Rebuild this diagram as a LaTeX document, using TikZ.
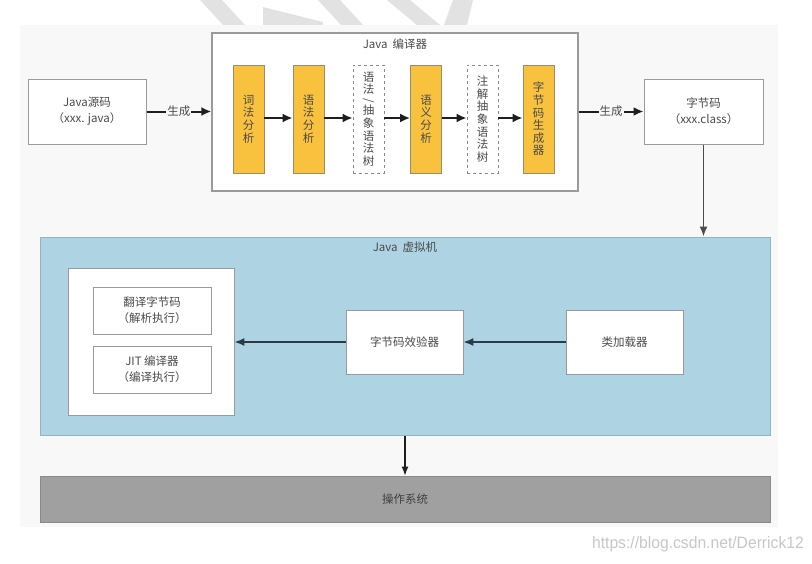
\documentclass[tikz,border=0pt]{standalone}
\usepackage{fontspec}
\newfontfamily\cjk{Noto Sans CJK SC}
\newfontfamily\wmfont{Liberation Sans}
\usetikzlibrary{arrows.meta}
\definecolor{bgc}{HTML}{F8F8F8}
\definecolor{wmc}{HTML}{E2E2E2}
\definecolor{txtc}{HTML}{4A4A4A}
\definecolor{boxc}{HTML}{9A9A9A}
\definecolor{orng}{HTML}{F9C23E}
\definecolor{obord}{HTML}{9C8C6A}
\definecolor{dashc}{HTML}{8A8A8A}
\definecolor{arrc}{HTML}{1E1E1E}
\definecolor{jvmc}{HTML}{AED4E3}
\definecolor{jvmb}{HTML}{8FB4C4}
\definecolor{osc}{HTML}{A0A0A0}
\definecolor{osb}{HTML}{8A8A8A}
\definecolor{varc}{HTML}{2B3A44}
\begin{document}
\begin{tikzpicture}[x=1pt,y=-1pt,
  txt/.style={font=\cjk\fontsize{11.5}{16}\selectfont, text=txtc, align=center},
  vtxt/.style={font=\cjk\fontsize{11.5}{12.6}\selectfont, text=txtc, align=center},
  box/.style={txt, draw=boxc, line width=1pt, fill=white, inner sep=0pt},
  obox/.style={vtxt, draw=obord, line width=0.8pt, fill=orng, inner sep=0pt, minimum width=31pt, minimum height=108pt},
  dbox/.style={vtxt, draw=dashc, line width=0.8pt, dashed, fill=white, inner sep=0pt, minimum width=31pt, minimum height=108pt},
  arr/.style={-{Latex[length=10pt,width=9pt]}, line width=2pt, draw=arrc},
  varr/.style={-{Latex[length=10pt,width=8pt]}, line width=1.6pt, draw=varc},
  lbl/.style={txt, fill=bgc, inner sep=1pt},
]
\useasboundingbox (0,0) rectangle (812,563);
\fill[white] (0,0) rectangle (812,563);
% watermark stripes
\fill[wmc] (200,0) -- (222,0) -- (245,25) -- (223,25) -- cycle;
\fill[wmc] (263,7) -- (323,22) -- (323,25) -- (263,25) -- cycle;
\fill[wmc] (318,0) -- (340,0) -- (363,25) -- (341,25) -- cycle;
\fill[wmc] (387,0) -- (410,0) -- (440,25) -- (417,25) -- cycle;
\fill[wmc] (453,0) -- (473,0) -- (467,25) -- (444,25) -- cycle;
% canvas
\fill[bgc] (20,25) rectangle (778,527);

% compiler
\node[box, fill=white, minimum width=366pt, minimum height=158pt, line width=1.3pt] (comp) at (395,112) {};
\node[txt] (ctitle) at (395,44) {Java\ \ 编译器};

\node[box, minimum width=118pt, minimum height=65pt] (src) at (87,111.5) {Java源码\\（xxx. java）};
\node[obox] (o1) at (248.5,119) {词\\法\\分\\析};
\node[obox] (o2) at (308.5,119) {语\\法\\分\\析};
\node[dbox] (d3) at (368.5,119) {语\\法\\[-2pt]\rotatebox[origin=c]{-90}{/}\\[-2pt]抽\\象\\语\\法\\树};
\node[obox] (o4) at (426,119) {语\\义\\分\\析};
\node[dbox] (d5) at (482.5,119) {注\\解\\抽\\象\\语\\法\\树};
\node[obox] (o6) at (538.5,119) {字\\节\\码\\生\\成\\器};
\node[box, minimum width=119pt, minimum height=65pt] (cls) at (703.5,111.5) {字节码\\（xxx.class）};

\draw[arr] (src.east) -- node[lbl] {生成} (src.east -| comp.west);
\draw[arr] (o1.east |- 0,118) -- (o2.west |- 0,118);
\draw[arr] (o2.east |- 0,118) -- (d3.west |- 0,118);
\draw[arr] (d3.east |- 0,118) -- (o4.west |- 0,118);
\draw[arr] (o4.east |- 0,118) -- (d5.west |- 0,118);
\draw[arr] (d5.east |- 0,118) -- (o6.west |- 0,118);
\draw[arr] (comp.east |- cls.west) -- node[lbl] {生成} (cls.west);

% JVM
\node[draw=jvmb, fill=jvmc, line width=1pt, minimum width=730pt, minimum height=198pt, inner sep=0pt] (jvm) at (405,336) {};
\node[txt] (jtitle) at (405,247) {Java\ \ 虚拟机};
\draw[varr, draw=black!70] (cls.south) -- (cls.south |- jvm.north);

\node[draw=boxc, fill=white, line width=0.8pt, minimum width=166pt, minimum height=147pt, inner sep=0pt] (inner) at (151,341.5) {};
\node[box, minimum width=118pt, minimum height=47pt, line width=0.8pt] (fy) at (152,310.5) {翻译字节码\\（解析执行）};
\node[box, minimum width=118pt, minimum height=47pt, line width=0.8pt] (jit) at (152,369.5) {JIT\ 编译器\\（编译执行）};
\node[box, minimum width=117pt, minimum height=64pt, line width=0.8pt] (ver) at (404.5,342) {字节码效验器};
\node[box, minimum width=117pt, minimum height=64pt, line width=0.8pt] (load) at (624.5,342) {类加载器};
\draw[varr] (load.west) -- (ver.east);
\draw[varr] (ver.west) -- (ver.west -| inner.east);

% OS
\node[txt, draw=osb, fill=osc, line width=1pt, minimum width=730pt, minimum height=46pt, inner sep=0pt, text=black!75] (os) at (405,499) {操作系统};
\draw[-{Latex[length=9pt,width=7pt]}, line width=1.1pt, draw=arrc] (jvm.south -| os.north) -- (os.north);

% watermark text
\node[font=\wmfont\fontsize{16.5}{18}\selectfont, text=black!22, anchor=east, inner sep=0pt, xscale=0.95] (wm) at (804,544) {https://blog.csdn.net/Derrick12};
\end{tikzpicture}
\end{document}
